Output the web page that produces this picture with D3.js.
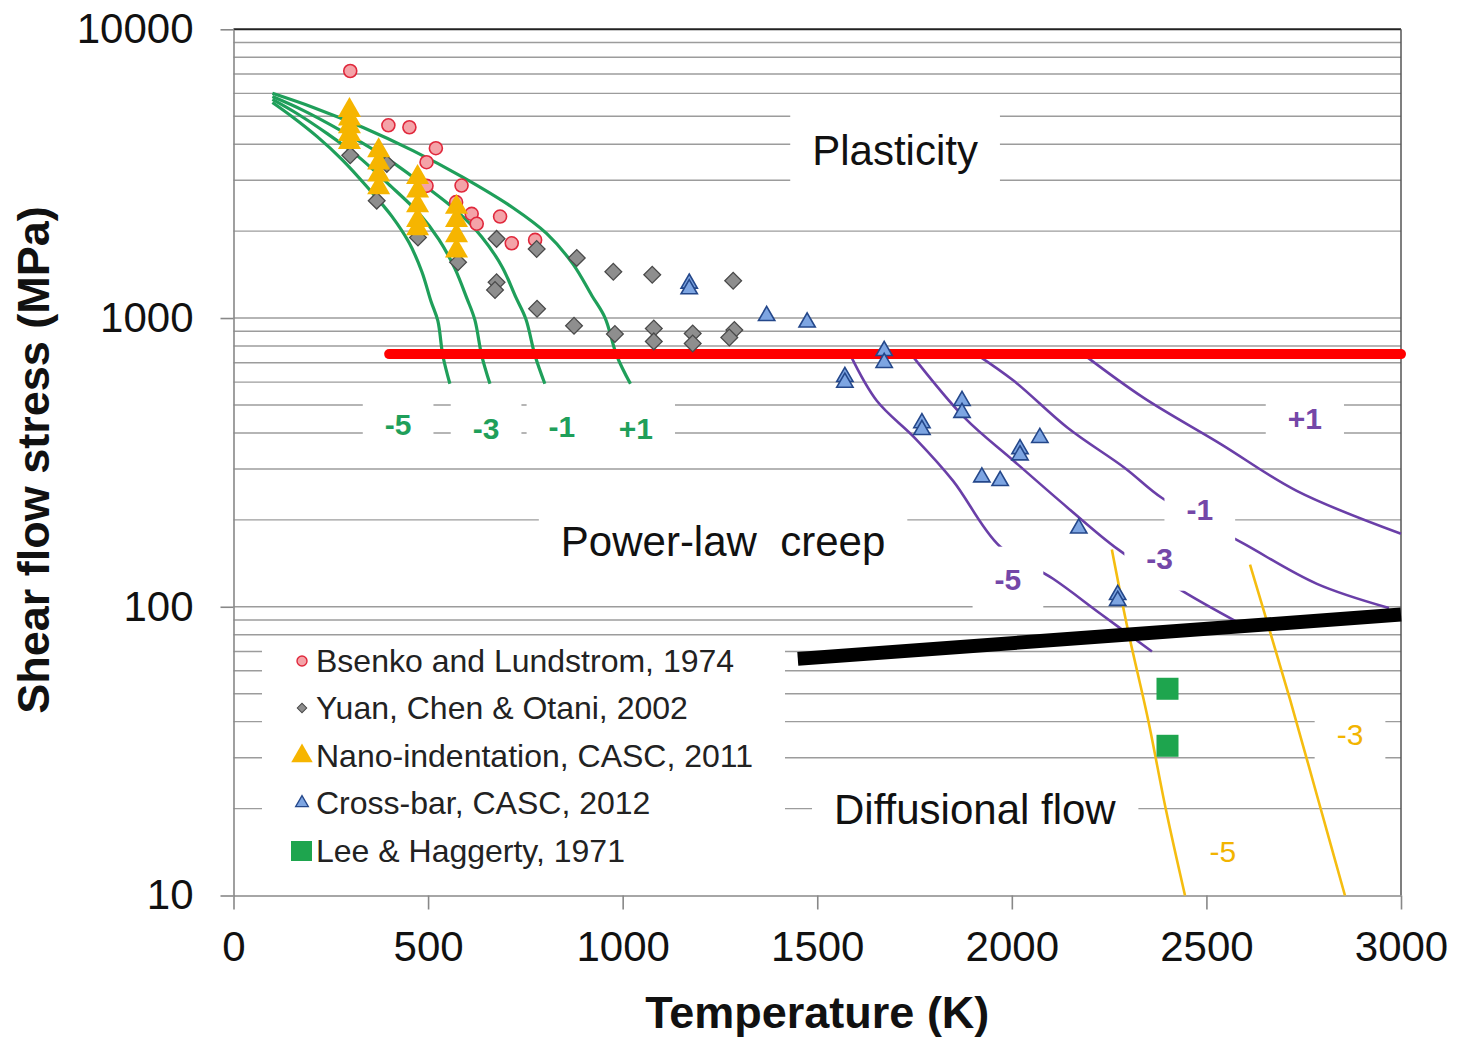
<!DOCTYPE html>
<html>
<head>
<meta charset="utf-8">
<title>Shear flow stress vs temperature</title>
<script src="https://d3js.org/d3.v7.min.js"></script>
<style>
body {margin:0; background:#fff;}
svg text {font-family: "Liberation Sans", Arial, sans-serif;}
</style>
</head>
<body>
<svg id="chart" width="1459" height="1037"></svg>
<script>
// ---- values: [temperature K, shear stress MPa] ----
var bsenko = [[300,7170],[398,4650],[452,4580],[520,3875],[496,3465],[586,2876],[496,2870],[572,2520],[612,2295],[625,2120],[685,2246],[715,1815],[775,1865]];
var yuan = [[300,3660],[394,3420],[368,2550],[474,1900],[577,1560],[676,1880],[779,1735],[882,1615],[976,1447],[1076,1413],[1284,1347],
            [676,1330],[672,1250],[780,1077],[875,940],[980,880],[1080,920],[1080,830],[1180,884],[1180,816],[1287,909],[1274,856]];
var nanoT = [298,298,298,298,298,373,373,373,373,473,473,473,473,473,573,573,573,573];
var nanoS = [5240,4900,4600,4330,4060,3800,3450,3130,2830,3070,2760,2450,2180,2040,2420,2180,1930,1710];
var crossbar = [[1171,1318],[1171,1260],[1370,1018],[1474,966],[1571,626],[1571,598],[1672,770],[1672,700],[1769,433],[1769,410],
                [1872,517],[1872,470],[1923,281],[1970,273],[2021,352],[2021,335],[2072,385],[2172,187],[2272,110],[2272,105]];
var leeT = [2400,2400];
var leeS = [52,33];

// deformation-map contour lines
var greenP1 = [[100,6000],[205,5360],[333,4570],[461,3800],[590,3070],[718,2410],[805,1960],[872,1540],[921,1195],[955,1000],[985,740],[1020,592]];
var greenM1 = [[100,5850],[179,5240],[276,4460],[376,3710],[474,2990],[572,2360],[638,1910],[690,1506],[726,1176],[751,994],[775,740],[800,592]];
var greenM3 = [[100,5720],[163,5110],[240,4360],[320,3630],[397,2920],[477,2300],[528,1870],[569,1483],[600,1167],[620,987],[638,740],[659,592]];
var greenM5 = [[100,5580],[150,4990],[215,4250],[279,3540],[343,2850],[407,2250],[451,1825],[484,1447],[507,1148],[525,979],[538,740],[556,592]];
var purpleM5 = [[1584,750],[1653,517],[1751,384],[1849,273],[1969,162],[2106,125],[2226,95],[2360,70]];
var purpleM3 = [[1741,750],[1879,451],[2005,320],[2144,220],[2273,158],[2440,113],[2576,89]];
var purpleM1 = [[1908,750],[2005,606],[2144,416],[2291,302],[2386,238],[2597,165],[2784,120],[2969,99]];
var purpleP1 = [[2183,750],[2339,529],[2537,366],[2732,252],[3000,179]];
var yellowM5 = [[2257,158],[2298,83.4],[2350,40.7],[2396,19.8],[2445,10]];
var yellowM3 = [[2612,140],[2658,86.8],[2715,47.7],[2787,21.5],[2856,10]];
var redLine = [[400,750],[3000,750]];
var blackLine = [[1450,66],[3000,94]];

// labels
var regionText = ["Plasticity","Power-law  creep","Diffusional flow"];
var regionT = [1700,1258,1905];
var regionS = [3800,169,19.9];
var greenText = ["-5","-3","-1","+1"];
var greenT = [423,649,844,1034];
var greenS = [427,416,420,413];
var purpleText = ["-5","-3","-1","+1"];
var purpleT = [1990,2380,2483,2753];
var purpleS = [124.6,147.3,218,447];
var yellowText = ["-5","-3"];
var yellowT = [2542,2869];
var yellowS = [14.2,36.2];
var legendText = ["Bsenko and Lundstrom, 1974","Yuan, Chen & Otani, 2002","Nano-indentation, CASC, 2011","Cross-bar, CASC, 2012","Lee & Haggerty, 1971"];

var xTicks = [0,500,1000,1500,2000,2500,3000];
var yTicks = [10,100,1000,10000];
var gridTicks = [20,30,40,50,60,70,80,90,100,200,300,400,500,600,700,800,900,1000,2000,3000,4000,5000,6000,7000,8000,9000];

var svg = d3.select("#chart");
var margin = {left:233.5, top:29.3, right:58, bottom:141.5};
var width = 1459 - margin.left - margin.right,
    height = 1037 - margin.top - margin.bottom;

var x = d3.scaleLinear().domain([0,3000]).range([0,width]);
var y = d3.scaleLog().domain([10,10000]).range([height,0]);

var g = svg.append("g").attr("transform","translate("+margin.left+","+margin.top+")");

// horizontal grid
g.selectAll(".grid").data(gridTicks).enter().append("line")
    .attr("x1",0).attr("x2",width)
    .attr("y1",d => y(d)).attr("y2",d => y(d))
    .attr("stroke","#9c9c9c").attr("stroke-width",1.4);

// frame: top + right
g.append("line").attr("x1",0).attr("x2",width).attr("y1",0).attr("y2",0).attr("stroke","#222").attr("stroke-width",2);
g.append("line").attr("x1",width).attr("x2",width).attr("y1",0).attr("y2",height).attr("stroke","#555").attr("stroke-width",1.5);

// axes
var xAxis = g.append("g").attr("transform","translate(0,"+height+")")
    .call(d3.axisBottom(x).tickValues(xTicks).tickFormat(d3.format("d")).tickSize(14).tickPadding(22).tickSizeOuter(0));
var yAxis = g.append("g")
    .call(d3.axisLeft(y).tickValues(yTicks).tickFormat(d3.format("d")).tickSize(13).tickPadding(27).tickSizeOuter(0));
[xAxis,yAxis].forEach(function(a){
    a.select(".domain").attr("stroke","#888").attr("stroke-width",1.6);
    a.selectAll(".tick line").attr("stroke","#888").attr("stroke-width",1.6);
    a.selectAll(".tick text").attr("fill","#111").style("font-size","42px").style("font-family","'Liberation Sans', Arial, sans-serif");
});

svg.append("text").attr("x",margin.left + x(1500)).attr("y",1028)
    .attr("text-anchor","middle").attr("font-weight","bold").attr("font-size",45).attr("fill","#111")
    .text("Temperature (K)");
svg.append("text").attr("transform","translate(49,460) rotate(-90)")
    .attr("text-anchor","middle").attr("font-weight","bold").attr("font-size",45).attr("fill","#111")
    .text("Shear flow stress (MPa)");

// curves
var line = d3.line().x(d => x(d[0])).y(d => y(d[1])).curve(d3.curveCatmullRom);
[greenP1,greenM1,greenM3,greenM5].forEach(function(c){
    g.append("path").attr("d",line(c)).attr("fill","none").attr("stroke","#1f9f5a").attr("stroke-width",3.2);
});
[purpleM5,purpleM3,purpleM1,purpleP1].forEach(function(c){
    g.append("path").attr("d",line(c)).attr("fill","none").attr("stroke","#6a3fa8").attr("stroke-width",2.6);
});
[yellowM5,yellowM3].forEach(function(c){
    g.append("path").attr("d",line(c)).attr("fill","none").attr("stroke","#f5bd10").attr("stroke-width",2.6);
});
var straight = d3.line().x(d => x(d[0])).y(d => y(d[1]));
g.append("path").attr("d",straight(redLine)).attr("stroke","#ff0000").attr("stroke-width",10).attr("stroke-linecap","round");
g.append("path").attr("d",straight(blackLine)).attr("stroke","#000").attr("stroke-width",14);

// text boxes with white fill, like the original annotations
function boxLabel(txt, T, s, size, color, weight, padX, padY){
    var lg = g.append("g");
    var r = lg.append("rect").attr("fill","#fff");
    var t = lg.append("text").attr("x",x(T)).attr("y",y(s)).attr("dy","0.35em")
        .attr("text-anchor","middle").attr("font-size",size).attr("fill",color).attr("font-weight",weight)
        .style("white-space","pre").text(txt);
    var b = t.node().getBBox();
    r.attr("x",b.x-padX).attr("y",b.y-padY).attr("width",b.width+2*padX).attr("height",b.height+2*padY);
}
regionText.forEach((d,i) => boxLabel(d, regionT[i], regionS[i], 42, "#111", "normal", 22, 16));
greenText.forEach((d,i) => boxLabel(d, greenT[i], greenS[i], 30, "#1f9f5a", "bold", 22, 16));
purpleText.forEach((d,i) => boxLabel(d, purpleT[i], purpleS[i], 30, "#7447a8", "bold", 22, 16));
yellowText.forEach((d,i) => boxLabel(d, yellowT[i], yellowS[i], 30, "#f2b400", "normal", 22, 16));

// markers
var tri = d3.symbol().type(d3.symbolTriangle);
var sq = d3.symbol().type(d3.symbolSquare);

g.selectAll(".bsenko").data(bsenko).enter().append("circle")
    .attr("cx",d => x(d[0])).attr("cy",d => y(d[1])).attr("r",6.5)
    .attr("fill","#f4a3a8").attr("stroke","#e0283c").attr("stroke-width",1.6);

// diamonds = squares turned 45deg
g.selectAll(".yuan").data(yuan).enter().append("path")
    .attr("d",sq.size(140)).attr("transform",d => "translate("+x(d[0])+","+y(d[1])+") rotate(45)")
    .attr("fill","#8e8e8e").attr("stroke","#4a4a4a").attr("stroke-width",1.3);

g.selectAll(".nano").data(nanoT).enter().append("path")
    .attr("d",tri.size(230)).attr("transform",(d,i) => "translate("+x(d)+","+y(nanoS[i])+")")
    .attr("fill","#f6b500");

g.selectAll(".cross").data(crossbar).enter().append("path")
    .attr("d",tri.size(115)).attr("transform",d => "translate("+x(d[0])+","+y(d[1])+")")
    .attr("fill","#7da5e2").attr("stroke","#24478a").attr("stroke-width",1.6);

g.selectAll(".lee").data(leeT).enter().append("rect")
    .attr("x",d => x(d)-11).attr("y",(d,i) => y(leeS[i])-11).attr("width",22).attr("height",22)
    .attr("fill","#1ea54e");

// legend
var leg = svg.append("g").attr("transform","translate(262,636)");
leg.append("rect").attr("width",523).attr("height",242).attr("fill","#fff");
var rowY = [25,72,120,167,215];
leg.append("circle").attr("cx",40).attr("cy",rowY[0]).attr("r",5).attr("fill","#f4a3a8").attr("stroke","#e0283c").attr("stroke-width",1.4);
leg.append("path").attr("d",sq.size(45)).attr("transform","translate(40,"+rowY[1]+") rotate(45)").attr("fill","#8e8e8e").attr("stroke","#4a4a4a");
leg.append("path").attr("d",tri.size(200)).attr("transform","translate(40,"+rowY[2]+")").attr("fill","#f6b500");
leg.append("path").attr("d",tri.size(70)).attr("transform","translate(40,"+rowY[3]+")").attr("fill","#7da5e2").attr("stroke","#24478a").attr("stroke-width",1.3);
leg.append("rect").attr("x",29).attr("y",rowY[4]-10).attr("width",21).attr("height",20).attr("fill","#1ea54e");
leg.selectAll(".lt").data(legendText).enter().append("text")
    .attr("x",54).attr("y",(d,i) => rowY[i]).attr("dy","0.35em")
    .attr("font-size",32).attr("fill","#222").text(d => d);
</script>
</body>
</html>
